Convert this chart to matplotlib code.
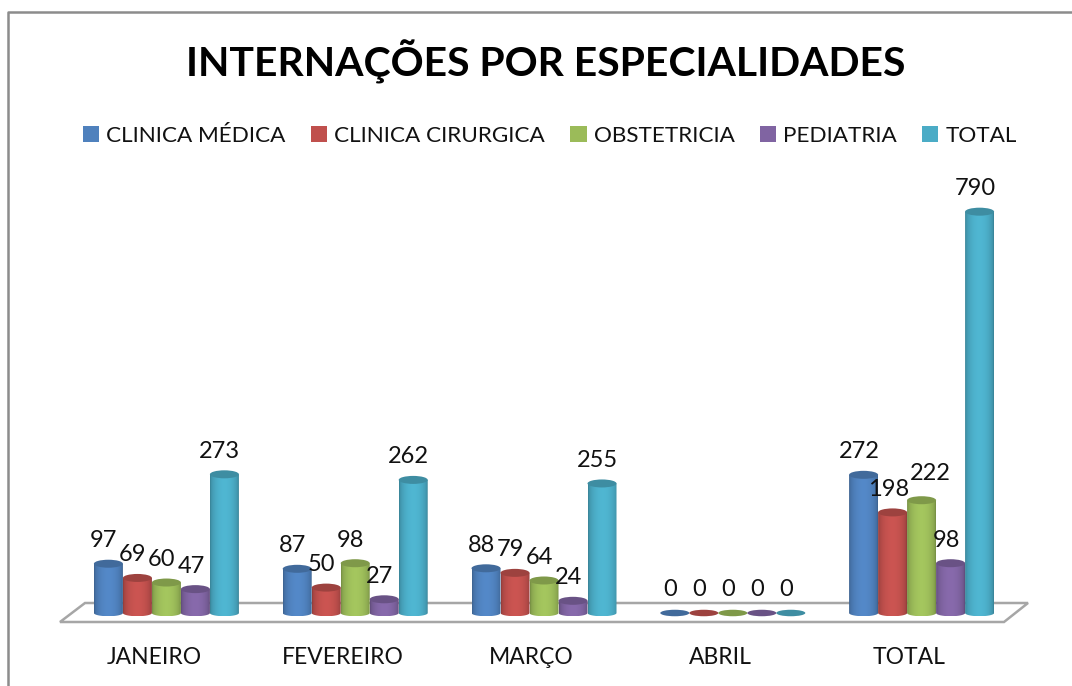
import numpy as np
import matplotlib
matplotlib.use('Agg')
import matplotlib.pyplot as plt
from matplotlib.colors import to_rgb
from matplotlib.lines import Line2D
from matplotlib.patches import Ellipse, Polygon, Rectangle

plt.rcParams['font.family'] = ['Lato', 'DejaVu Sans']

# Data
months = ['JANEIRO', 'FEVEREIRO', 'MARÇO', 'ABRIL', 'TOTAL']
clinica_medica = [97, 87, 88, 0, 272]
clinica_cirurgica = [69, 50, 79, 0, 198]
obstetricia = [60, 98, 64, 0, 222]
pediatria = [47, 27, 24, 0, 98]
total = [273, 262, 255, 0, 790]
series_names = ['CLINICA MÉDICA', 'CLINICA CIRURGICA', 'OBSTETRICIA', 'PEDIATRIA', 'TOTAL']
series_values = [clinica_medica, clinica_cirurgica, obstetricia, pediatria, total]
colors = ['#4F81BD', '#C0504D', '#9BBB59', '#8064A2', '#4BACC6']

W, H = 1072, 686
fig = plt.figure(figsize=(W / 100, H / 100), dpi=100)

# axes placed so one category is 188.75 px wide; base of the bars at y = 613 px
left, right, top, bottom = 72, 1016, 150, 640
base, scale = 613, 0.508
ax = fig.add_axes([left / W, 1 - bottom / H, (right - left) / W, (bottom - top) / H])
ax.set_xlim(-0.5, 4.5)
ax.set_ylim(-(bottom - base) / scale, (base - top) / scale)
ax.axis('off')

px_x = (right - left) / 5
bar_w = 29 / px_x
cap_h = 8 / scale  # ellipse height in data units
foot_h = 6.5 / scale

# outer frame (left and top only) and floor, in figure pixels
fig.add_artist(Line2D(np.array([8, 8, 1072]) / W, 1 - np.array([686, 12, 12]) / H, color='#8c8c8c', lw=1.8))
floor = np.array([[60, 622], [85, 603], [1028, 603], [1004, 622]], dtype=float)
floor[:, 0] /= W
floor[:, 1] = 1 - floor[:, 1] / H
fig.add_artist(Polygon(floor, closed=True, fc='white', ec='#a6a6a6', lw=1.8, zorder=0.5))
ax.set_zorder(2)


def shade(color):
    # light across the middle, dark towards both edges of the cylinder
    c = np.array(to_rgb(color))
    pos = np.linspace(0, 1, 40)
    k = 0.76 + 0.30 * np.sin(np.pi * pos) ** 0.5
    return np.clip(c[None, None, :] * k[None, :, None], 0, 1)


for s, (name, vals, color) in enumerate(zip(series_names, series_values, colors)):
    for i, v in enumerate(vals):
        x = i + (s - 2) * bar_w
        if v == 0:
            ax.add_patch(Ellipse((x, 0), bar_w, foot_h, fc=np.array(to_rgb(color)) * 0.82, ec='none', zorder=3))
        else:
            im = ax.imshow(shade(color), extent=(x - bar_w / 2, x + bar_w / 2, -foot_h / 2, v),
                           aspect='auto', zorder=3 + s * 0.1, interpolation='bilinear')
            # rounded foot of the cylinder
            t = np.linspace(0, np.pi, 40)
            sil = np.column_stack([
                np.r_[x - bar_w / 2, x + bar_w / 2 * np.cos(t + np.pi), x + bar_w / 2, x - bar_w / 2],
                np.r_[v, foot_h / 2 * np.sin(t + np.pi), v, v],
            ])
            im.set_clip_path(Polygon(sil, closed=True, transform=ax.transData))
            ax.add_patch(Ellipse((x, v), bar_w, cap_h, fc=np.array(to_rgb(color)) * 0.82, ec='none',
                                 zorder=3.05 + s * 0.1))
        dx, dy = -4.5, 23
        if s == 2 and i == 4:
            dx, dy = 9, 27
        ax.annotate(str(v), (x, v), xytext=(dx * 0.72, dy * 0.72), textcoords='offset points',
                    ha='center', va='center', fontsize=17, color='#111111', zorder=10)

for i, m in enumerate(months):
    ax.text(i - 12.5 / px_x, -(658 - base) / scale, m, ha='center', va='center', fontsize=16.5,
            color='#111111')

fig.text(546 / W, 1 - 62 / H, 'INTERNAÇÕES POR ESPECIALIDADES', ha='center', va='center',
         fontsize=29.4, fontweight='bold', color='black')

handles = [Rectangle((0, 0), 1, 1, fc=c, ec='none') for c in colors]
fig.legend(handles, series_names, loc='center', bbox_to_anchor=(550 / W, 1 - 136 / H), ncol=5,
           frameon=False, fontsize=16.2, handlelength=0.72, handleheight=0.72, handletextpad=0.32,
           columnspacing=1.12, labelcolor='#111111')

fig.savefig('out.png', dpi=100)
